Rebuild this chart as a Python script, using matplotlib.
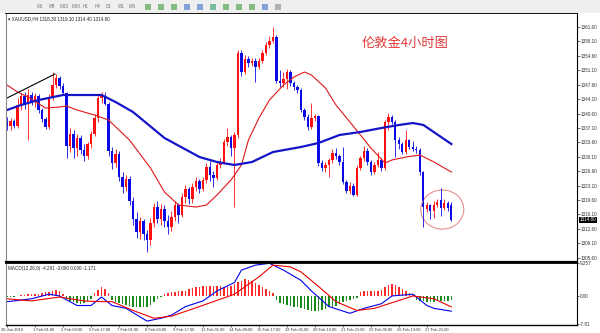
import numpy as np
import matplotlib
matplotlib.use('Agg')
import matplotlib.pyplot as plt
import matplotlib.transforms as mtransforms
from matplotlib.patches import Ellipse, Rectangle

plt.rcParams['font.family'] = ['Liberation Sans', 'DejaVu Sans']

# XAUUSD H4 candles, 30 Jan - 28 Feb 2018
opens = [1338.3, 1337.5, 1338.7, 1337.6, 1342.6, 1344.8, 1342.8, 1345.0, 1343.3, 1344.8,
         1341.4, 1339.2, 1337.3, 1344.4, 1347.5, 1349.3, 1347.2, 1345.7, 1332.7, 1335.7,
         1332.3, 1334.7, 1331.8, 1330.4, 1333.1, 1335.7, 1339.5, 1344.4, 1344.8, 1343.0,
         1331.4, 1328.5, 1330.9, 1325.2, 1322.8, 1324.8, 1319.4, 1315.1, 1311.8, 1314.6,
         1311.3, 1309.8, 1314.1, 1317.9, 1315.1, 1317.4, 1314.6, 1313.1, 1315.6, 1318.4,
         1316.0, 1320.4, 1322.3, 1319.9, 1322.8, 1324.2, 1322.3, 1324.5, 1327.6, 1325.7,
         1325.0, 1328.0, 1328.9, 1333.8, 1334.9, 1332.2, 1335.4, 1355.4, 1350.6, 1353.9,
         1352.9, 1353.4, 1351.9, 1353.4, 1355.4, 1357.2, 1358.2, 1359.2, 1348.6, 1348.1,
         1349.1, 1350.8, 1348.1, 1347.1, 1346.3, 1341.5, 1339.8, 1337.3, 1339.5, 1339.9,
         1328.5, 1327.3, 1328.2, 1329.3, 1331.1, 1330.2, 1328.9, 1324.0, 1321.9, 1322.9,
         1320.9, 1327.5, 1329.8, 1331.6, 1328.8, 1326.5, 1328.2, 1329.3, 1327.5, 1338.5,
         1339.8, 1338.6, 1334.2, 1333.1, 1331.3, 1334.1, 1332.5, 1332.0, 1331.7, 1326.3,
         1317.4, 1318.3, 1316.9, 1318.4, 1319.6, 1317.6, 1318.9, 1318.3]
highs = [1339.8, 1339.6, 1339.3, 1344.4, 1345.6, 1345.8, 1346.6, 1345.8, 1345.6, 1345.3,
         1341.9, 1339.8, 1345.3, 1350.8, 1350.2, 1349.6, 1348.0, 1345.9, 1337.2, 1336.7,
         1335.7, 1335.4, 1333.1, 1333.8, 1336.4, 1340.5, 1345.3, 1345.9, 1345.8, 1343.3,
         1332.4, 1331.9, 1331.4, 1326.5, 1325.7, 1325.5, 1320.4, 1316.6, 1315.6, 1315.1,
         1312.3, 1315.3, 1318.9, 1319.4, 1318.7, 1318.4, 1315.9, 1317.0, 1319.4, 1318.9,
         1321.4, 1323.3, 1322.8, 1323.8, 1325.2, 1324.7, 1325.2, 1328.5, 1329.0, 1326.7,
         1328.8, 1329.9, 1334.4, 1337.1, 1335.4, 1336.1, 1356.1, 1355.9, 1354.9, 1354.6,
         1354.2, 1354.2, 1354.0, 1356.0, 1358.0, 1359.5, 1361.6, 1359.7, 1351.1, 1350.6,
         1351.4, 1351.1, 1348.6, 1347.6, 1346.8, 1341.9, 1340.5, 1343.1, 1340.6, 1340.2,
         1329.4, 1328.9, 1329.9, 1331.9, 1332.3, 1330.9, 1332.6, 1324.5, 1323.9, 1323.7,
         1328.2, 1330.4, 1332.7, 1332.2, 1329.4, 1328.9, 1331.2, 1329.9, 1339.0, 1340.8,
         1340.2, 1339.0, 1335.0, 1333.7, 1336.7, 1334.5, 1334.0, 1332.8, 1332.2, 1326.7,
         1319.1, 1318.7, 1319.4, 1319.9, 1322.6, 1319.9, 1319.4, 1319.1]
lows = [1336.7, 1336.5, 1337.0, 1337.0, 1341.4, 1341.8, 1334.2, 1342.6, 1342.3, 1340.7,
        1338.5, 1336.8, 1336.8, 1343.8, 1346.8, 1346.6, 1345.3, 1329.8, 1331.3, 1329.9,
        1330.3, 1330.9, 1329.2, 1329.6, 1332.3, 1335.2, 1338.5, 1343.1, 1342.6, 1330.4,
        1327.2, 1327.6, 1324.2, 1321.4, 1321.9, 1318.4, 1313.6, 1310.3, 1310.1, 1309.8,
        1307.1, 1308.8, 1313.1, 1314.1, 1313.6, 1313.1, 1311.3, 1312.1, 1314.6, 1314.1,
        1315.5, 1318.9, 1318.7, 1318.9, 1321.8, 1321.4, 1321.8, 1323.7, 1324.2, 1322.8,
        1324.5, 1327.3, 1328.4, 1332.8, 1330.4, 1318.0, 1334.7, 1349.6, 1350.1, 1351.9,
        1352.2, 1348.3, 1351.4, 1352.9, 1354.9, 1356.4, 1357.7, 1348.1, 1347.1, 1347.1,
        1346.6, 1347.4, 1346.2, 1345.6, 1340.9, 1339.0, 1336.6, 1336.8, 1338.8, 1327.9,
        1326.6, 1326.4, 1325.3, 1328.6, 1329.6, 1328.2, 1323.5, 1321.4, 1321.1, 1320.5,
        1320.5, 1327.0, 1329.2, 1328.2, 1325.7, 1325.9, 1327.6, 1326.7, 1327.0, 1336.5,
        1338.0, 1330.0, 1332.0, 1330.8, 1330.8, 1331.9, 1331.5, 1331.1, 1325.7, 1313.1,
        1316.8, 1315.1, 1315.3, 1317.9, 1315.8, 1317.1, 1317.0, 1314.4]
closes = [1337.5, 1338.7, 1337.6, 1342.6, 1344.8, 1342.8, 1345.0, 1343.3, 1344.8, 1341.4,
          1339.2, 1337.3, 1344.4, 1347.5, 1349.3, 1347.2, 1345.7, 1332.7, 1335.7, 1332.3,
          1334.7, 1331.8, 1330.4, 1333.1, 1335.7, 1339.5, 1344.4, 1344.8, 1343.0, 1331.4,
          1328.5, 1330.9, 1325.2, 1322.8, 1324.8, 1319.4, 1315.1, 1311.8, 1314.6, 1311.3,
          1309.8, 1314.1, 1317.9, 1315.1, 1317.4, 1314.6, 1313.1, 1315.6, 1318.4, 1316.0,
          1320.4, 1322.3, 1319.9, 1322.8, 1324.2, 1322.3, 1324.5, 1327.6, 1325.7, 1325.0,
          1328.0, 1328.9, 1333.8, 1334.9, 1332.2, 1335.4, 1355.4, 1350.6, 1353.9, 1352.9,
          1353.4, 1351.9, 1353.4, 1355.4, 1357.2, 1358.2, 1359.2, 1348.6, 1348.1, 1349.1,
          1350.8, 1348.1, 1347.1, 1346.3, 1341.5, 1339.8, 1337.3, 1339.5, 1339.9, 1328.5,
          1327.3, 1328.2, 1329.3, 1331.1, 1330.2, 1328.9, 1324.0, 1321.9, 1322.9, 1320.9,
          1327.5, 1329.8, 1331.6, 1328.8, 1326.5, 1328.2, 1329.3, 1327.4, 1338.5, 1339.8,
          1338.6, 1334.2, 1333.1, 1331.3, 1334.1, 1332.5, 1332.0, 1331.7, 1326.3, 1318.0,
          1318.3, 1316.9, 1318.4, 1319.1, 1317.6, 1318.9, 1317.6, 1314.8]

# moving averages as drawn on the chart
ma_fast_idx = [0, 3, 6, 11, 15, 17, 20, 25, 29, 35, 41, 45, 49, 54, 57, 60, 64, 67,
               69, 72, 75, 79, 82, 85, 87, 91, 94, 98, 101, 104, 108, 110, 114, 118, 122, 127]
ma_fast_val = [1347.52, 1345.82, 1344.61, 1341.94, 1342.18, 1342.43, 1341.45, 1340.24,
               1339.03, 1334.17, 1327.38, 1321.55, 1318.40, 1317.91, 1318.40, 1320.83,
               1324.47, 1328.11, 1334.17, 1339.51, 1343.88, 1347.52, 1349.47, 1350.68,
               1349.95, 1346.80, 1342.67, 1338.54, 1335.39, 1332.23, 1328.59, 1329.32,
               1330.05, 1330.54, 1328.84, 1326.41]
ma_slow_idx = [0, 4, 9, 16, 27, 31, 36, 45, 55, 60, 65, 70, 76, 84, 89, 95, 101, 107,
               112, 116, 119, 127]
ma_slow_val = [1341.45, 1342.67, 1343.88, 1345.10, 1345.10, 1343.40, 1340.97, 1334.66,
               1330.05, 1328.84, 1328.11, 1328.84, 1331.26, 1332.48, 1333.45, 1335.39,
               1336.12, 1337.09, 1337.82, 1338.30, 1337.82, 1333.20]

# hand drawn objects
trend_idx = [0, 13.7]
trend_val = [1344.37, 1350.19]
circle_idx, circle_val = 124.4, 1317.3
circle_w, circle_h = 12.3, 9.5
title_idx, title_val = 101.4, 1357.7

# MACD window
osma = [-0.41, -0.41, -0.27, -0.14, 0.14, 0.27, 0.41, 0.54, 0.54, 0.41,
        0.82, 1.09, 1.09, 1.36, 1.63, 1.36, 0.54, -0.82, -1.36, -1.63,
        -1.90, -2.18, -1.90, -1.36, -0.82, 0.82, 1.63, 2.45, 1.90, 0.82,
        -1.09, -1.63, -1.90, -2.18, -2.45, -2.72, -2.99, -3.26, -3.26, -3.26,
        -2.99, -2.45, -1.63, -0.82, -0.27, 0.54, 0.82, 1.09, 1.09, 1.36,
        1.36, 1.36, 1.90, 2.18, 2.45, 2.45, 2.72, 2.72, 2.72, 2.72,
        2.72, 2.72, 2.45, 2.45, 2.72, 3.26, 3.81, 4.35, 4.90, 4.62,
        4.08, 3.54, 2.99, 2.45, 1.90, 1.36, 0.82, -1.09, -1.90, -2.18,
        -2.45, -2.72, -2.99, -3.26, -3.54, -3.81, -4.08, -4.35, -4.35, -4.35,
        -4.08, -3.81, -3.26, -2.99, -2.72, -2.18, -1.63, -1.36, -1.09, -0.82,
        -0.54, 1.09, 1.36, 1.36, 1.36, 1.36, 1.36, 1.63, 2.45, 2.99,
        3.26, 2.99, 2.45, 1.90, 1.36, 0.82, 0.27, -1.09, -1.36, -1.50,
        -1.60, -1.60, -1.60, -1.50, -1.50, -1.40, -1.30, -1.17]
macd_idx = [0, 2, 7, 12, 15, 20, 24, 27, 30, 34, 40, 44, 47, 51, 56, 60, 65, 67, 71,
            75, 79, 84, 87, 92, 98, 102, 107, 110, 116, 120, 122, 127]
macd_val = [-1.6, -1.4, -0.8, 0.5, 0.0, -2.7, -2.7, -0.3, -2.7, -3.5, -7.1, -6.3, -5.4,
            -3.0, -1.4, 1.4, 3.8, 7.3, 8.7, 9.2, 7.3, 4.4, 1.4, -3.0, -4.9, -3.5, -2.2,
            0.0, 0.5, -2.7, -3.5, -4.3]
signal_idx = [0, 7, 15, 22, 26, 30, 36, 42, 47, 55, 65, 72, 76, 81, 84, 89, 94, 100,
              105, 111, 116, 122, 127]
signal_val = [-0.8, -1.4, -0.3, -1.4, -1.6, -1.6, -4.1, -6.3, -5.7, -3.0, 0.5, 5.4, 8.7,
              8.2, 6.8, 2.7, -1.6, -4.1, -3.5, -1.6, 0.0, -0.8, -3.1]

price_ticks = [1361.60, 1358.10, 1354.60, 1351.10, 1347.60, 1344.10, 1340.60, 1337.10,
               1333.60, 1330.10, 1326.60, 1323.10, 1319.60, 1316.10, 1312.60, 1309.10,
               1305.60]
macd_ticks = [9.257, 0.0, -7.81]
macd_tick_labels = ['9.257', '0.00', '-7.81']
date_idx = [0, 8, 16, 24, 32, 40, 48, 56, 64, 72, 80, 88, 96, 104, 112, 120]
date_labels = ['30 Jan 2018', '1 Feb 01:00', '2 Feb 09:00', '5 Feb 17:00', '7 Feb 01:00',
               '8 Feb 09:00', '9 Feb 17:00', '13 Feb 01:00', '14 Feb 09:00', '15 Feb 17:00',
               '19 Feb 01:00', '20 Feb 13:00', '21 Feb 21:00', '23 Feb 05:00',
               '26 Feb 13:00', '27 Feb 21:00']
timeframes = ['M1', 'M5', 'M15', 'M30', 'H1', 'H4', 'D1', 'W1', 'MN']

small = 3.3
fig = plt.figure(figsize=(6, 3.33), dpi=100)

# toolbar strip
fig.patches.append(Rectangle((0, 1 - 13 / 333), 1, 13 / 333, transform=fig.transFigure,
                             facecolor='#efefef', edgecolor='none'))
for k, tf in enumerate(timeframes):
    fig.text((37 + 11.5 * k) / 600, 1 - 6.5 / 333, tf, fontsize=small, color='#777777',
             va='center')
icon_cols = ['#3a9a3a', '#3a9a3a', '#3a9a3a', '#3a6fc8', '#3a6fc8', '#2f9a6a',
             '#3a9a3a', '#3a9a3a', '#3a9a3a', '#3a6fc8', '#888888']
for k, col in enumerate(icon_cols):
    fig.patches.append(Rectangle(((145 + 13 * k) / 600, 1 - 10 / 333), 6 / 600, 6 / 333,
                                 transform=fig.transFigure, facecolor=col,
                                 edgecolor='none', alpha=0.6))

o = np.array(opens)
h = np.array(highs)
l = np.array(lows)
c = np.array(closes)
x = np.arange(len(c))

ax = fig.add_axes([6 / 600, 1 - 262 / 333, 571 / 600, 249 / 333])
ax.set_xlim(-0.3, 162.9)
ax.set_ylim(1304.57, 1365.0)

cols = np.where(c >= o, '#ff1010', '#0a0ae6')
ax.vlines(x, l, h, colors=cols, lw=0.6)
ax.bar(x, np.maximum(np.abs(c - o), 0.12), bottom=np.minimum(o, c), width=0.62,
       color=cols, linewidth=0)

ax.plot(ma_fast_idx, ma_fast_val, color='#e01818', lw=0.8)
ax.plot(ma_slow_idx, ma_slow_val, color='#1414c8', lw=1.6)
ax.plot(trend_idx, trend_val, color='black', lw=0.8)
ax.add_patch(Ellipse((circle_idx, circle_val), circle_w, circle_h, fill=False,
                     ec='#e58080', lw=0.7))
ax.text(title_idx, title_val, '伦敦金4小时图', color='#e23a3a', fontsize=9.5,
        family=['Noto Sans CJK SC', 'DejaVu Sans'], va='center', ha='left')
ax.text(0.004, 0.988,
        '\u25be XAUUSD,H4 %.2f %.2f %.2f %.2f' % (opens[-1], highs[-1], lows[-1], closes[-1]),
        transform=ax.transAxes, fontsize=small, va='top', ha='left', color='#222222')

ax.set_xticks([])
ax.yaxis.tick_right()
ax.set_yticks(price_ticks)
ax.set_yticklabels(['%.2f' % v for v in price_ticks])
ax.tick_params(axis='y', labelsize=small, length=2, width=0.5, pad=1, colors='#333333')
ax.spines['top'].set_linewidth(1.3)
ax.spines['bottom'].set_linewidth(1.6)
ax.spines['left'].set_color('#888888')
ax.spines['left'].set_linewidth(0.8)
ax.spines['right'].set_linewidth(0.8)

trans = mtransforms.blended_transform_factory(ax.transAxes, ax.transData)
ax.text(1.004, closes[-1], '%.2f' % closes[-1], transform=trans, fontsize=small,
        color='white', va='center', ha='left',
        bbox=dict(boxstyle='square,pad=0.15', fc='black', ec='none'))

# MACD sub window
axm = fig.add_axes([6 / 600, 1 - 325 / 333, 571 / 600, 62 / 333])
axm.set_xlim(-0.3, 162.9)
axm.set_ylim(-8.2, 9.3)
hist = np.array(osma)
axm.bar(x, hist, width=0.45, color=np.where(hist > 0, '#ff2a2a', '#178a17'), linewidth=0)
axm.plot(macd_idx, macd_val, color='#0000ee', lw=0.8)
axm.plot(signal_idx, signal_val, color='#ee0000', lw=0.8)
axm.text(0.004, 0.95, 'MACD(12,26,9) -4.291 -3.090 0.000 -1.171', transform=axm.transAxes,
         fontsize=small, va='top', ha='left', color='#222222')

axm.yaxis.tick_right()
axm.set_yticks(macd_ticks)
axm.set_yticklabels(macd_tick_labels)
axm.set_xticks(date_idx)
axm.set_xticklabels(date_labels)
axm.tick_params(labelsize=small, length=1.5, width=0.5, pad=0.8, colors='#333333')
axm.tick_params(axis='x', labelsize=2.9)
for k, lbl in enumerate(axm.get_xticklabels()):
    lbl.set_ha('left')
    shift = -6 / 100 if k == 0 else -2 / 100
    lbl.set_transform(lbl.get_transform() +
                      mtransforms.ScaledTranslation(shift, 0, fig.dpi_scale_trans))
axm.spines['top'].set_linewidth(1.3)
axm.spines['bottom'].set_linewidth(1.0)
axm.spines['left'].set_color('#888888')
axm.spines['left'].set_linewidth(0.8)
axm.spines['right'].set_linewidth(0.8)

fig.savefig('out.png', dpi=100)
